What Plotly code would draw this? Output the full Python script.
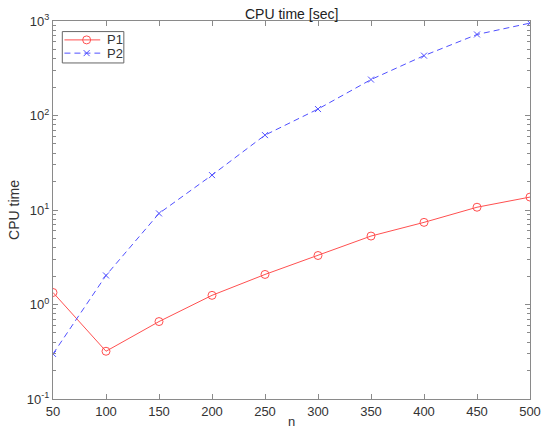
import plotly.graph_objects as go

n = [50, 100, 150, 200, 250, 300, 350, 400, 450, 500]
p1 = [1.34, 0.32, 0.66, 1.25, 2.08, 3.3, 5.3, 7.4, 10.7, 13.7]
p2 = [0.30, 2.03, 9.2, 23.4, 62, 117, 240, 430, 720, 950]
ytickvals = [0.1, 1, 10, 100, 1000]
yticktext = ["10<sup>-1</sup>", "10<sup>0</sup>", "10<sup>1</sup>", "10<sup>2</sup>", "10<sup>3</sup>"]
yminor = [m * d for d in [0.1, 1, 10, 100] for m in range(2, 10)]
xtickvals = n
series_names = ["P1", "P2"]

red = "rgb(255,80,80)"
blue = "rgb(80,80,255)"
axcol = "#8a8a8a"
txtcol = "#333333"
dashpat = "6px,4px"

fig = go.Figure()
fig.add_trace(go.Scatter(x=n, y=p1, name=series_names[0], mode="lines+markers",
                         line=dict(color=red, width=1), showlegend=False,
                         marker=dict(symbol="circle-open", size=8, color=red, line=dict(width=1))))
fig.add_trace(go.Scatter(x=n, y=p2, name=series_names[1], mode="lines+markers",
                         line=dict(color=blue, width=1, dash=dashpat), showlegend=False,
                         marker=dict(symbol="x-thin-open", size=6, color=blue, line=dict(width=1, color=blue))))

# manual legend (layout in plot-area fractions)
lx0, lx1, ly0, ly1 = 0.0195, 0.1485, 0.889, 0.972
rows = [0.950, 0.915]
fig.add_shape(type="rect", xref="paper", yref="paper", x0=lx0, x1=lx1, y0=ly0, y1=ly1,
              line=dict(color="#666666", width=1), fillcolor="white", layer="below")
for i, (nm, col, dash) in enumerate([(series_names[0], red, "solid"), (series_names[1], blue, dashpat)]):
    fig.add_shape(type="line", xref="paper", yref="paper", x0=0.024, x1=0.099, y0=rows[i], y1=rows[i],
                  line=dict(color=col, width=1, dash=dash), layer="above")
    fig.add_annotation(text=nm, xref="paper", yref="paper", x=0.108, y=rows[i], xanchor="left",
                       yanchor="middle", showarrow=False, font=dict(size=13, color=txtcol))
fig.add_trace(go.Scatter(x=[0.0705], y=[rows[0]], xaxis="x2", yaxis="y2", mode="markers",
                         showlegend=False, hoverinfo="skip",
                         marker=dict(symbol="circle-open", size=8, color=red, line=dict(width=1))))
fig.add_trace(go.Scatter(x=[0.0705], y=[rows[1]], xaxis="x2", yaxis="y2", mode="markers",
                         showlegend=False, hoverinfo="skip",
                         marker=dict(symbol="x-thin-open", size=6, color=blue, line=dict(width=1, color=blue))))

fig.update_layout(
    width=543, height=429,
    margin=dict(l=53, r=13, t=21, b=30),
    paper_bgcolor="white", plot_bgcolor="white",
    font=dict(family="Liberation Sans, Arial, sans-serif", size=13, color=txtcol),
    showlegend=False,
    xaxis=dict(range=[50, 500], tickvals=xtickvals, ticks="inside", ticklen=5,
               tickcolor=axcol, showline=True, linecolor=axcol, linewidth=1,
               mirror="ticks", showgrid=False, zeroline=False, automargin=False,
               tickfont=dict(size=13),
               title=dict(text="n", standoff=3, font=dict(size=13))),
    yaxis=dict(type="log", range=[-1, 3], tickvals=ytickvals, ticktext=yticktext,
               ticks="inside", ticklen=5, tickcolor=axcol, showline=True,
               linecolor=axcol, linewidth=1, mirror="ticks", showgrid=False,
               zeroline=False, automargin=False, tickfont=dict(size=13),
               title=dict(text="CPU time", standoff=3, font=dict(size=14)),
               minor=dict(tickmode="array", tickvals=yminor, ticks="inside", ticklen=3,
                          tickcolor=axcol, showgrid=False)),
    xaxis2=dict(overlaying="x", range=[0, 1], visible=False, fixedrange=True),
    yaxis2=dict(overlaying="y", range=[0, 1], visible=False, fixedrange=True),
    annotations=list(fig.layout.annotations) + [
        dict(text="CPU time [sec]", xref="paper", yref="paper", x=0.5, y=1,
             xanchor="center", yanchor="middle", yshift=7, showarrow=False,
             font=dict(size=14, color="#222222"))
    ],
)

fig.write_html("out.html", config={"displayModeBar": False},
               post_script="document.body.style.margin='0';document.body.style.overflow='hidden';")
